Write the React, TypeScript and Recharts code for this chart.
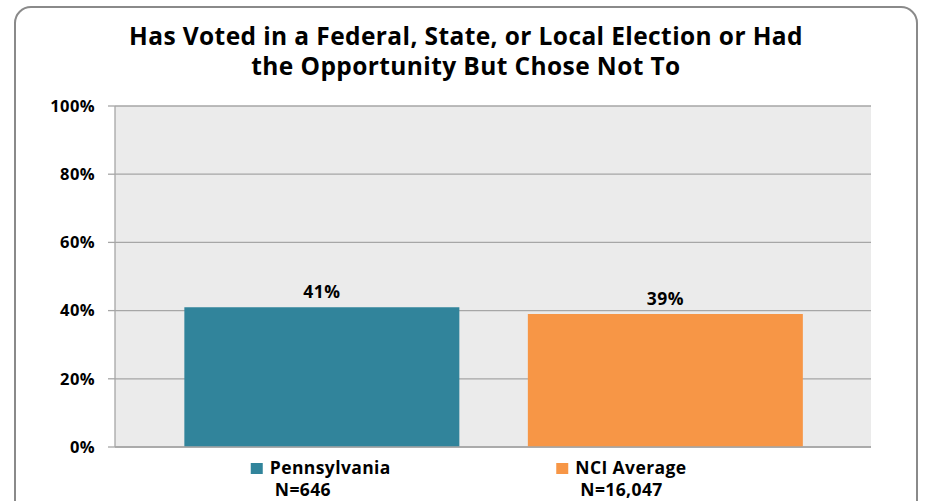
import { BarChart, Bar, XAxis, YAxis, CartesianGrid, LabelList, Cell } from 'recharts';

const TITLE_LINES = [
    'Has Voted in a Federal, State, or Local Election or Had',
    'the Opportunity But Chose Not To',
];
const categories = ['Pennsylvania', 'NCI Average'];
const sampleSizes = ['N=646', 'N=16,047'];
const values = [0.41, 0.39];
const colors = ['#31849b', '#f79646'];
const yTicks = [0, 0.2, 0.4, 0.6, 0.8, 1];

const data = categories.map((name, i) => ({ name, value: values[i], n: sampleSizes[i], color: colors[i] }));

const FONT = '"Open Sans", "DejaVu Sans", sans-serif';

// label groups in the original are not centred on the bars, so nudge them per category
const tickShift = [-71, -109];

function CategoryTick(props: any) {
    const { x, y, index } = props;
    const d = data[index];
    const left = x + tickShift[index];
    return (
        <g>
            <rect x={left} y={y + 14} width={12} height={11} fill={d.color} />
            <text x={left + 19} y={y + 25} fontFamily={FONT} fontWeight={700} fontSize={17.5} letterSpacing={0.4} fill="#000">
                {d.name}
            </text>
            <text x={left + 24} y={y + 47} fontFamily={FONT} fontWeight={700} fontSize={17.5} letterSpacing={0.4} fill="#000">
                {d.n}
            </text>
        </g>
    );
}

export default function App() {
    return (
        <div style={{ position: 'fixed', left: 0, top: 0, width: 926, height: 501, background: '#fff', overflow: 'hidden' }}>
            <svg width={926} height={501} style={{ position: 'absolute', left: 0, top: 0 }}>
                <rect x={15} y={7} width={902} height={520} rx={16} ry={16} fill="#fff" stroke="#8a8a8a" strokeWidth={2} />
                {TITLE_LINES.map((line, i) => (
                    <text
                        key={i}
                        x={466}
                        y={45 + i * 30}
                        textAnchor="middle"
                        fontFamily={FONT}
                        fontWeight={700}
                        fontSize={24.5}
                        letterSpacing={0.4}
                        fill="#000"
                    >
                        {line}
                    </text>
                ))}
            </svg>
            <div style={{ position: 'absolute', left: 0, top: 0 }}>
                <BarChart
                    width={926}
                    height={501}
                    data={data}
                    margin={{ top: 106, right: 55, bottom: 0, left: 0 }}
                    barCategoryGap="10%"
                >
                    <CartesianGrid vertical={false} fill="#ebebeb" stroke="#a6a6a6" strokeWidth={1.3} />
                    <XAxis
                        dataKey="name"
                        height={54}
                        padding={{ left: 35, right: 34 }}
                        tickLine={false}
                        tickSize={0}
                        axisLine={{ stroke: '#a6a6a6', strokeWidth: 1.3 }}
                        tick={<CategoryTick />}
                        interval={0}
                    />
                    <YAxis
                        width={115}
                        domain={[0, 1]}
                        ticks={yTicks}
                        tickFormatter={(v: number) => `${Math.round(v * 100)}%`}
                        tickSize={7}
                        tickMargin={13}
                        tickLine={{ stroke: '#a6a6a6', strokeWidth: 1.3 }}
                        axisLine={{ stroke: '#a6a6a6', strokeWidth: 1.3 }}
                        tick={{ fontFamily: FONT, fontWeight: 700, fontSize: 16.5, letterSpacing: 0.4, fill: '#000' }}
                    />
                    <Bar dataKey="value" isAnimationActive={false}>
                        {data.map((d, i) => (
                            <Cell key={i} fill={d.color} />
                        ))}
                        <LabelList
                            dataKey="value"
                            position="top"
                            offset={9}
                            formatter={(v: any) => `${Math.round(Number(v) * 100)}%`}
                            style={{ fontFamily: FONT, fontWeight: 700, fontSize: 17.5, letterSpacing: 0.4, fill: '#000' }}
                        />
                    </Bar>
                </BarChart>
            </div>
        </div>
    );
}
